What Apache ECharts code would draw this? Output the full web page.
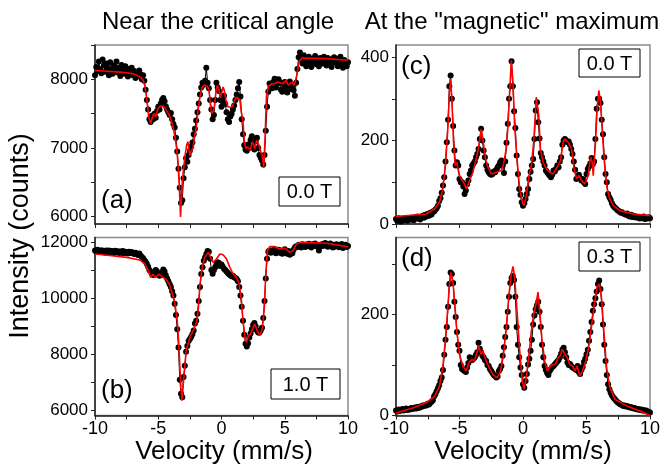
<!DOCTYPE html>
<html>
<head>
<meta charset="utf-8">
<script src="https://cdn.jsdelivr.net/npm/echarts@6/dist/echarts.min.js"></script>
<style>
  html, body { margin: 0; padding: 0; background: #fff; }
  #chart { width: 664px; height: 469px; }
</style>
</head>
<body>
<div id="chart"></div>
<script>
// Velocity channels (mm/s), shared by all four spectra
const velocity = [
  -10.0,-9.9,-9.8,-9.7,-9.6,-9.5,-9.4,-9.3,-9.2,-9.1,
  -9.0,-8.9,-8.8,-8.7,-8.6,-8.5,-8.4,-8.3,-8.2,-8.1,
  -8.0,-7.9,-7.8,-7.7,-7.6,-7.5,-7.4,-7.3,-7.2,-7.1,
  -7.0,-6.9,-6.8,-6.7,-6.6,-6.5,-6.4,-6.3,-6.2,-6.1,
  -6.0,-5.9,-5.8,-5.7,-5.6,-5.5,-5.4,-5.3,-5.2,-5.1,
  -5.0,-4.9,-4.8,-4.7,-4.6,-4.5,-4.4,-4.3,-4.2,-4.1,
  -4.0,-3.9,-3.8,-3.7,-3.6,-3.5,-3.4,-3.3,-3.2,-3.1,
  -3.0,-2.9,-2.8,-2.7,-2.6,-2.5,-2.4,-2.3,-2.2,-2.1,
  -2.0,-1.9,-1.8,-1.7,-1.6,-1.5,-1.4,-1.3,-1.2,-1.1,
  -1.0,-0.9,-0.8,-0.7,-0.6,-0.5,-0.4,-0.3,-0.2,-0.1,
  0.0,0.1,0.2,0.3,0.4,0.5,0.6,0.7,0.8,0.9,
  1.0,1.1,1.2,1.3,1.4,1.5,1.6,1.7,1.8,1.9,
  2.0,2.1,2.2,2.3,2.4,2.5,2.6,2.7,2.8,2.9,
  3.0,3.1,3.2,3.3,3.4,3.5,3.6,3.7,3.8,3.9,
  4.0,4.1,4.2,4.3,4.4,4.5,4.6,4.7,4.8,4.9,
  5.0,5.1,5.2,5.3,5.4,5.5,5.6,5.7,5.8,5.9,
  6.0,6.1,6.2,6.3,6.4,6.5,6.6,6.7,6.8,6.9,
  7.0,7.1,7.2,7.3,7.4,7.5,7.6,7.7,7.8,7.9,
  8.0,8.1,8.2,8.3,8.4,8.5,8.6,8.7,8.8,8.9,
  9.0,9.1,9.2,9.3,9.4,9.5,9.6,9.7,9.8,9.9,
  10.0
];

// (a) near the critical angle, 0.0 T : measured counts
const countsA = [
  8060,8180,8120,8260,8150,8090,8290,8200,8110,8230,
  8160,8060,8250,8140,8080,8200,8120,8260,8100,8170,
  8050,8210,8130,8080,8190,8110,8040,8150,8090,8170,
  8060,8120,8020,8100,8050,8130,8070,8000,8060,7980,
  7850,7700,7560,7420,7380,7470,7420,7500,7440,7540,
  7600,7560,7650,7700,7730,7680,7610,7560,7520,7480,
  7510,7420,7350,7300,7150,6950,6700,6420,6200,6240,
  6560,6720,6850,6800,6900,6960,7020,7080,7200,7280,
  7400,7520,7650,7780,7880,7950,7920,7980,8170,7950,
  7870,7700,7560,7420,7480,7700,7950,7880,7830,7700,
  7600,7680,7760,7640,7520,7420,7380,7460,7500,7560,
  7620,7700,7780,7870,7960,7750,7420,7200,7040,6980,
  6960,7050,7000,7120,7170,7020,6980,7100,7150,7000,
  6900,6860,6820,6760,6900,7250,7600,7820,7940,7900,
  7870,7960,8010,7880,7930,8000,7960,7850,7820,7930,
  7960,7880,7810,7900,7970,7860,7910,7840,7760,7950,
  8150,8320,8390,8270,8230,8350,8300,8190,8260,8330,
  8240,8180,8300,8250,8340,8220,8280,8190,8310,8260,
  8230,8330,8280,8200,8310,8250,8290,8180,8270,8320,
  8240,8300,8190,8260,8330,8210,8170,8280,8240,8190,
  8250
];

// (b) near the critical angle, 1.0 T : measured counts
const countsB = [
  11700,11650,11720,11680,11640,11710,11660,11690,11620,11700,
  11650,11700,11620,11680,11660,11600,11690,11640,11670,11610,
  11660,11620,11680,11600,11650,11630,11590,11650,11610,11640,
  11600,11570,11620,11560,11540,11590,11520,11470,11420,11350,
  11300,11220,11120,11000,10940,10880,10830,10900,11000,10950,
  10860,10800,10830,10920,11020,10950,10820,10700,10600,10500,
  10400,10250,10100,9800,9400,8900,8250,7100,6600,6480,
  7200,7600,8100,8300,8480,8550,8620,8720,8850,9100,
  9200,9450,9900,10400,10860,11100,11330,11450,11570,11680,
  11650,11400,11000,10870,11000,11100,11200,11280,11250,11150,
  11200,11120,11050,11000,10950,10900,10850,10820,10780,10800,
  10750,10720,10680,10600,10400,10100,9700,9200,8700,8380,
  8280,8400,8600,8750,8900,9050,9120,9000,8850,8780,
  8780,8850,8950,9300,9900,10700,11400,11650,11700,11620,
  11700,11650,11750,11600,11680,11720,11620,11700,11580,11660,
  11740,11620,11580,11680,11550,11650,11600,11720,11800,11850,
  11820,11900,11860,11800,11920,11870,11820,11900,11850,11940,
  11880,11800,11920,11860,11950,11890,11830,11700,11900,11850,
  11930,11870,11960,11900,11830,11890,11950,11860,11800,11900,
  11840,11920,11880,11810,11860,11930,11790,11850,11900,11820,
  11860
];

// (c) at the "magnetic" maximum, 0.0 T : measured counts
const countsC = [
  12,8,14,10,6,12,9,14,11,8,
  13,10,15,12,9,16,13,18,14,11,
  17,20,15,22,18,24,20,27,23,30,
  30,34,38,44,55,62,75,92,112,150,
  196,250,330,356,300,235,176,140,148,140,
  108,100,100,90,72,80,95,104,120,128,
  140,145,150,160,168,180,204,228,200,176,
  160,140,130,124,120,118,120,126,124,130,
  136,140,148,152,140,122,150,195,240,300,
  330,390,330,270,230,164,120,84,70,52,
  44,50,60,72,84,108,125,140,156,204,
  272,292,244,205,170,160,150,140,128,124,
  120,116,112,118,128,126,132,140,136,150,
  160,190,200,204,200,196,198,190,180,168,
  150,130,108,112,118,110,104,108,100,96,
  120,132,138,145,158,144,150,204,276,300,
  300,290,250,215,160,120,100,72,64,58,
  50,44,40,38,34,32,30,27,28,25,
  24,22,25,20,18,22,17,20,16,18,
  15,17,13,16,14,18,12,15,13,16,
  14
];

// (d) at the "magnetic" maximum, 0.3 T : measured counts
const countsD = [
  10,8,12,9,11,13,10,12,14,11,
  13,12,15,13,14,16,14,17,15,18,
  17,20,19,21,20,23,22,25,27,30,
  38,42,48,54,60,68,75,90,120,150,
  175,215,260,283,280,262,225,195,165,140,
  128,100,92,90,88,86,95,104,115,112,
  110,112,115,120,125,144,132,125,118,115,
  110,108,100,98,92,88,84,80,78,75,
  77,88,92,98,118,135,155,175,205,235,
  262,272,276,268,235,175,140,115,95,80,
  62,55,68,82,101,112,128,150,180,198,
  210,218,225,205,175,140,115,98,90,84,
  80,88,92,96,98,101,104,107,110,115,
  122,130,134,125,115,105,100,102,98,95,
  94,92,90,98,86,82,90,96,106,112,
  121,130,148,165,185,207,220,232,245,260,
  267,250,220,180,140,108,80,62,52,45,
  40,36,33,30,27,25,23,22,21,19,
  20,18,19,17,16,17,15,14,15,13,
  12,13,11,12,10,11,9,10,8,7,
  6
];

// Fitted curves: [velocity, counts]
const fitA = [
  [-10,8130],[-9,8118],[-8,8105],[-7.5,8097],[-7,8080],[-6.7,8058],[-6.4,8030],[-6.2,7985],
  [-6.05,7900],[-5.95,7780],[-5.85,7620],[-5.75,7450],[-5.6,7354],[-5.45,7460],[-5.34,7500],
  [-5.2,7451],[-5.05,7560],[-4.85,7610],[-4.6,7612],[-4.4,7560],[-4.2,7500],[-4.0,7420],
  [-3.8,7282],[-3.65,7130],[-3.55,7000],[-3.45,6800],[-3.35,6500],[-3.28,6200],[-3.24,5995],
  [-3.18,6200],[-3.1,6500],[-3.0,6700],[-2.85,6930],[-2.75,7050],[-2.65,7090],[-2.55,6950],
  [-2.48,6890],[-2.4,6950],[-2.25,7000],[-2.1,7200],[-2.0,7300],[-1.85,7550],[-1.7,7750],
  [-1.55,7880],[-1.35,7915],[-1.15,7900],[-1.0,7860],[-0.88,7640],[-0.78,7500],[-0.7,7476],
  [-0.6,7560],[-0.52,7680],[-0.42,7850],[-0.33,7913],[-0.22,7864],[-0.1,7730],[-0.05,7718],
  [0.05,7830],[0.12,7888],[0.22,7840],[0.35,7700],[0.5,7600],[0.6,7597],[0.75,7590],
  [0.9,7621],[1.05,7700],[1.2,7740],[1.3,7767],[1.45,7700],[1.55,7550],[1.7,7379],
  [1.8,7112],[1.92,6990],[2.05,7020],[2.15,7040],[2.28,6966],[2.42,7087],[2.55,7050],
  [2.62,6990],[2.78,7112],[2.95,7050],[3.1,6950],[3.22,6893],[3.34,6709],[3.45,7184],
  [3.55,7743],[3.7,7900],[3.95,7930],[4.2,7937],[4.45,7960],[4.6,7985],[4.85,7937],
  [5.1,7985],[5.3,7913],[5.55,7961],[5.75,7913],[5.95,8058],[6.1,8230],[6.2,8277],
  [6.4,8311],[8.3,8301],[10,8277]
];
const fitB = [
  [-10,11573],[-8.5,11500],[-7.5,11454],[-6.45,11360],[-6.05,11217],[-5.8,10980],[-5.6,10743],
  [-5.4,10838],[-5.2,10743],[-4.95,10862],[-4.66,10743],[-4.4,10684],[-4.13,10506],
  [-3.87,10150],[-3.68,9794],[-3.5,9201],[-3.39,8490],[-3.29,7541],[-3.21,6829],[-3.13,6355],
  [-3.05,6829],[-2.9,7541],[-2.8,8134],[-2.5,8608],[-2.24,8845],[-1.97,9142],[-1.84,9557],
  [-1.7,10506],[-1.5,11158],[-1.32,11454],[-1.05,11632],[-0.87,11454],[-0.66,11277],
  [-0.4,11395],[-0.13,11573],[0.13,11549],[0.4,11395],[0.66,11099],[0.92,10862],
  [1.18,10743],[1.4,10506],[1.58,9913],[1.7,9201],[1.87,8549],[1.97,8430],[2.13,8667],
  [2.29,8727],[2.45,8905],[2.63,9082],[2.82,8845],[3.03,8667],[3.24,8964],[3.39,9676],
  [3.5,10862],[3.63,11692],[3.82,11834],[4.2,11834],[4.6,11751],[5.0,11787],[5.4,11632],
  [5.66,11692],[5.92,11929],[6.3,11988],[8.3,11953],[10,11834]
];
const fitC = [
  [-10,18],[-7.63,24],[-6.97,36],[-6.58,52],[-6.32,84],[-6.11,140],[-5.92,228],[-5.79,316],
  [-5.71,348],[-5.6,300],[-5.47,196],[-5.34,140],[-5.21,148],[-5.05,120],[-4.87,108],
  [-4.6,96],[-4.47,84],[-4.26,100],[-3.95,124],[-3.68,156],[-3.47,188],[-3.29,228],
  [-3.16,204],[-2.95,156],[-2.76,136],[-2.5,120],[-2.1,124],[-1.71,128],[-1.53,144],
  [-1.32,180],[-1.18,236],[-1.05,316],[-0.92,392],[-0.79,340],[-0.66,236],[-0.47,156],
  [-0.26,84],[-0.05,52],[0.08,44],[0.26,68],[0.47,116],[0.66,140],[0.84,196],[1.0,276],
  [1.05,304],[1.24,260],[1.37,180],[1.58,148],[1.84,132],[2.1,124],[2.37,120],[2.68,136],
  [2.95,152],[3.16,196],[3.29,204],[3.55,196],[3.82,180],[4.03,132],[4.21,108],[4.42,116],
  [4.61,104],[4.87,96],[5.13,116],[5.32,160],[5.45,148],[5.53,116],[5.58,120],[5.71,196],
  [5.84,276],[5.97,320],[6.11,292],[6.26,212],[6.45,132],[6.63,84],[6.84,60],[7.1,44],
  [7.63,32],[8.68,24],[10,20]
];
const fitD = [
  [-10,5],[-8.68,15],[-7.63,25],[-6.97,38],[-6.58,58],[-6.32,95],[-6.11,148],[-5.92,214],
  [-5.79,260],[-5.66,283],[-5.53,267],[-5.39,227],[-5.21,167],[-5.0,121],[-4.74,98],
  [-4.47,88],[-4.26,105],[-4.0,111],[-3.82,108],[-3.63,124],[-3.47,138],[-3.32,121],
  [-3.16,128],[-2.95,111],[-2.68,95],[-2.37,81],[-2.05,75],[-1.79,85],[-1.53,121],
  [-1.32,174],[-1.1,240],[-0.92,280],[-0.79,295],[-0.66,273],[-0.47,207],[-0.26,128],
  [-0.05,68],[0.08,52],[0.26,75],[0.47,121],[0.66,167],[0.84,200],[1.0,217],[1.18,244],
  [1.32,207],[1.5,148],[1.71,108],[1.92,88],[2.16,98],[2.37,101],[2.55,101],[2.76,115],
  [2.95,118],[3.1,131],[3.29,121],[3.47,115],[3.68,101],[3.89,98],[4.08,88],[4.26,98],
  [4.47,78],[4.68,88],[4.95,108],[5.21,141],[5.45,187],[5.66,227],[5.84,254],[6.0,260],
  [6.18,234],[6.37,167],[6.58,95],[6.84,55],[7.24,32],[8.16,19],[9.21,9],[10,0]
];

// Axis ticks and labels
const yTicksA = [6000, 6500, 7000, 7500, 8000, 8500];
const yLabelsA = [6000, 7000, 8000];
const yTicksB = [6000, 7000, 8000, 9000, 10000, 11000, 12000];
const yLabelsB = [6000, 8000, 10000, 12000];
const yTicksC = [0, 100, 200, 300, 400];
const yLabelsC = [0, 200, 400];
const yTicksD = [0, 100, 200, 300];
const yLabelsD = [0, 200];

const panelTitles = ['Near the critical angle', 'At the "magnetic" maximum'];
const panelTags = ['(a)', '(b)', '(c)', '(d)'];
const fieldTags = ['0.0 T', '1.0 T', '0.0 T', '0.3 T'];
const yName = 'Intensity (counts)';
const xName = 'Velocity (mm/s)';

const FONT = '"Liberation Sans", Arial, Helvetica, sans-serif';

const pairs = (ys) => velocity.map((v, i) => [v, ys[i]]);

const grids = [
  { left: 95,  top: 45,    width: 253, height: 179 },
  { left: 95,  top: 237.5, width: 253, height: 178 },
  { left: 396, top: 45,    width: 254, height: 179 },
  { left: 396, top: 237.5, width: 254, height: 178 }
].map(g => Object.assign(g, {
  show: true, borderColor: '#8a8a8a', borderWidth: 1.5,
  backgroundColor: 'transparent', containLabel: false, outerBoundsMode: 'none'
}));

function xAxis(idx, showLabels) {
  return {
    type: 'value', gridIndex: idx, min: -10, max: 10, interval: 2.5,
    axisLine: { show: true, onZero: false, lineStyle: { color: '#222', width: 1.5 } },
    axisTick: { show: true, inside: false, length: 4, lineStyle: { color: '#222', width: 1 } },
    axisLabel: {
      show: showLabels, margin: 5, fontSize: 18, color: '#000', fontFamily: FONT,
      showMinLabel: true, showMaxLabel: true,
      formatter: (v) => (Math.abs(v % 5) < 1e-9 ? String(v) : '')
    },
    splitLine: { show: false }
  };
}

function yAxis(idx, min, max, ticks, labels) {
  return {
    type: 'value', gridIndex: idx, min: min, max: max,
    axisLine: { show: true, onZero: false, lineStyle: { color: '#222', width: 1.5 } },
    axisTick: { show: true, inside: false, length: 4, customValues: ticks,
                lineStyle: { color: '#222', width: 1 } },
    axisLabel: { show: true, margin: 7, fontSize: 17, color: '#000', fontFamily: FONT,
                 customValues: labels, formatter: (v) => String(v) },
    splitLine: { show: false }
  };
}

function dataSeries(idx, ys) {
  return {
    type: 'line', xAxisIndex: idx, yAxisIndex: idx, data: pairs(ys),
    symbol: 'circle', symbolSize: 6, showSymbol: true, showAllSymbol: true,
    itemStyle: { color: '#000' }, lineStyle: { color: '#000', width: 1 },
    clip: true, z: 2, silent: true
  };
}

function fitSeries(idx, pts) {
  return {
    type: 'line', xAxisIndex: idx, yAxisIndex: idx, data: pts,
    symbol: 'none', lineStyle: { color: '#ff0000', width: 1.6 },
    clip: true, z: 3, silent: true
  };
}

function label(text, x, y, size, align, extra) {
  return Object.assign({
    type: 'text', x: x, y: y, z: 100,
    style: { text: text, font: size + 'px ' + FONT, fill: '#000',
             align: align, textAlign: align, verticalAlign: 'middle', textVerticalAlign: 'middle' }
  }, extra || {});
}

function fieldBox(x, y, w, h, text) {
  return [
    { type: 'rect', z: 99, shape: { x: x, y: y, width: w, height: h },
      style: { fill: '#fff', stroke: '#000', lineWidth: 1 } },
    label(text, x + w / 2, y + h / 2 + 1, 20, 'center')
  ];
}

const graphics = [
  label(panelTitles[0], 218, 22, 24, 'center'),
  label(panelTitles[1], 512, 22, 24, 'center'),
  label(yName, 21, 236, 27, 'center', { rotation: Math.PI / 2 }),
  label(xName, 224, 452, 26, 'center'),
  label(xName, 523, 452, 26, 'center'),
  label(panelTags[0], 101, 201, 26, 'left'),
  label(panelTags[1], 101, 391, 26, 'left'),
  label(panelTags[2], 401, 67, 26, 'left'),
  label(panelTags[3], 401, 259, 26, 'left'),
  ...fieldBox(279, 177, 61, 29, fieldTags[0]),
  ...fieldBox(271, 369, 69, 30, fieldTags[1]),
  ...fieldBox(579, 49, 61, 28, fieldTags[2]),
  ...fieldBox(579, 242, 61, 29, fieldTags[3])
];

const chart = echarts.init(document.getElementById('chart'), null, { renderer: 'canvas' });
chart.setOption({
  animation: false,
  backgroundColor: '#fff',
  textStyle: { fontFamily: FONT },
  grid: grids,
  xAxis: [xAxis(0, false), xAxis(1, true), xAxis(2, false), xAxis(3, true)],
  yAxis: [
    yAxis(0, 5894, 8500, yTicksA, yLabelsA),
    yAxis(1, 5830, 12160, yTicksB, yLabelsB),
    yAxis(2, 0, 429, yTicksC, yLabelsC),
    yAxis(3, 0, 352, yTicksD, yLabelsD)
  ],
  series: [
    dataSeries(0, countsA), fitSeries(0, fitA),
    dataSeries(1, countsB), fitSeries(1, fitB),
    dataSeries(2, countsC), fitSeries(2, fitC),
    dataSeries(3, countsD), fitSeries(3, fitD)
  ],
  graphic: graphics
});
</script>
</body>
</html>
